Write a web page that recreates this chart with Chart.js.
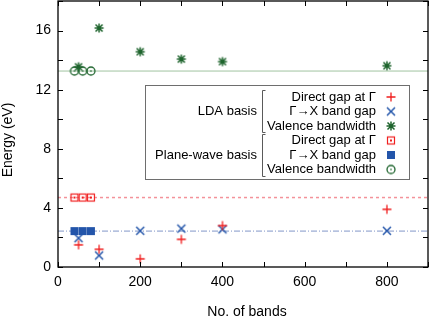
<!DOCTYPE html>
<html lang="en">
<head>
  <meta charset="UTF-8" />
  <title>Energy vs number of bands</title>
  <script src="https://cdn.jsdelivr.net/npm/chart.js"></script>
  <style>
    body {
      margin: 0;
      background: #fff;
    }
    #wrap {
      position: relative;
      width: 436px;
      height: 330px;
    }
  </style>
</head>
<body>
  <div id="wrap">
    <canvas id="bandsChart"></canvas>
  </div>

  <script>
    // data
    const ldaBands = [50, 100, 200, 300, 400, 800];
    const ldaDirectGap = [1.5, 1.2, 0.55, 1.87, 2.8, 3.9];
    const ldaGammaX = [1.95, 0.78, 2.45, 2.6, 2.55, 2.45];
    const ldaValence = [13.55, 16.17, 14.57, 14.07, 13.9, 13.62];

    const pwBands = [40, 60, 80];
    const pwDirectGap = [4.7, 4.7, 4.7];
    const pwGammaX = [2.43, 2.43, 2.43];
    const pwValence = [13.26, 13.26, 13.26];

    const xLimits = [0, 900];
    const yLimits = [0, 18];
    const xTitle = 'No. of bands';
    const yTitle = 'Energy (eV)';
    const legendLabels = ['Direct gap at Γ', 'Γ→X band gap', 'Valence bandwidth'];
    const groupLabels = ['LDA basis', 'Plane-wave basis'];

    const RED = 'rgb(240,30,30)';
    const BLUE = 'rgb(35,85,170)';
    const GREEN = 'rgb(30,100,45)';
    const FONT = "'Liberation Sans', Arial, sans-serif";

    Chart.defaults.font.family = FONT;
    Chart.defaults.font.size = 14;
    Chart.defaults.color = '#000';

    // little canvases used as point styles
    function marker(draw) {
      const c = document.createElement('canvas');
      c.width = 12; c.height = 12;
      const g = c.getContext('2d');
      g.translate(6, 6);
      draw(g);
      return c;
    }

    const plusMark = marker(g => {
      g.strokeStyle = RED; g.lineWidth = 1.3;
      g.beginPath();
      g.moveTo(-4.5, 0); g.lineTo(4.5, 0);
      g.moveTo(0, -4.5); g.lineTo(0, 4.5);
      g.stroke();
    });
    const crossMark = marker(g => {
      g.strokeStyle = BLUE; g.lineWidth = 1.5;
      g.beginPath();
      g.moveTo(-4, -4); g.lineTo(4, 4);
      g.moveTo(-4, 4); g.lineTo(4, -4);
      g.stroke();
    });
    const starMark = marker(g => {
      g.strokeStyle = GREEN; g.lineWidth = 1.5;
      g.beginPath();
      g.moveTo(-4.5, 0); g.lineTo(4.5, 0);
      g.moveTo(0, -4.5); g.lineTo(0, 4.5);
      g.moveTo(-3.5, -3.5); g.lineTo(3.5, 3.5);
      g.moveTo(-3.5, 3.5); g.lineTo(3.5, -3.5);
      g.stroke();
    });
    const openSquareMark = marker(g => {
      g.strokeStyle = RED; g.fillStyle = RED; g.lineWidth = 1.2;
      g.strokeRect(-3.5, -3.5, 7, 7);
      g.fillRect(-1, -1, 2, 2);
    });
    const filledSquareMark = marker(g => {
      g.fillStyle = BLUE;
      g.fillRect(-4, -4, 8, 8);
    });
    const circleMark = marker(g => {
      g.strokeStyle = GREEN; g.fillStyle = GREEN; g.lineWidth = 1.3;
      g.beginPath(); g.arc(0, 0, 4, 0, Math.PI * 2); g.stroke();
      g.fillRect(-0.7, -0.7, 1.4, 1.4);
    });

    const pts = (xs, ys) => xs.map((x, i) => ({ x: x, y: ys[i] }));
    const hline = y => [{ x: xLimits[0], y: y }, { x: xLimits[1], y: y }];

    function scatterSet(label, xs, ys, style) {
      return {
        type: 'scatter', label: label, data: pts(xs, ys),
        pointStyle: style, pointRadius: 5, order: 0
      };
    }
    function refLine(y, color, dash, width) {
      return {
        type: 'line', data: hline(y), borderColor: color, borderWidth: width || 1,
        borderDash: dash, pointRadius: 0, order: 10
      };
    }

    // frame, inward ticks, axis titles and the bracketed legend
    const framePlugin = {
      id: 'frame',
      afterDraw(chart) {
        const ctx = chart.ctx;
        const a = chart.chartArea;
        const xs = chart.scales.x, ys = chart.scales.y;
        ctx.save();
        ctx.strokeStyle = '#000';
        ctx.lineWidth = 1;
        ctx.beginPath();
        xs.ticks.forEach(t => {
          const px = Math.round(xs.getPixelForValue(t.value)) + 0.5;
          ctx.moveTo(px, a.bottom); ctx.lineTo(px, a.bottom - 5);
          ctx.moveTo(px, a.top); ctx.lineTo(px, a.top + 5);
        });
        ys.ticks.forEach(t => {
          const py = Math.round(ys.getPixelForValue(t.value)) + 0.5;
          ctx.moveTo(a.left, py); ctx.lineTo(a.left + 5, py);
          ctx.moveTo(a.right, py); ctx.lineTo(a.right - 5, py);
        });
        ctx.stroke();
        ctx.lineWidth = 1.3;
        ctx.strokeRect(a.left, a.top, a.right - a.left, a.bottom - a.top);

        // axis titles
        ctx.fillStyle = '#000';
        ctx.font = '14px ' + FONT;
        ctx.textAlign = 'center';
        ctx.textBaseline = 'middle';
        ctx.fillText(xTitle, 247, 312);
        ctx.save();
        ctx.translate(8, 140);
        ctx.rotate(-Math.PI / 2);
        ctx.fillText(yTitle, 0, 0);
        ctx.restore();

        // legend box
        const bx = 145.5, by = 85.5, bw = 264, bh = 94;
        ctx.fillStyle = '#fff';
        ctx.fillRect(bx, by, bw, bh);
        ctx.strokeStyle = 'rgb(110,110,110)';
        ctx.lineWidth = 1;
        ctx.strokeRect(bx, by, bw, bh);

        const marks = [plusMark, crossMark, starMark, openSquareMark, filledSquareMark, circleMark];
        const rowY = [97, 111.5, 126, 140.5, 155, 169.5];
        ctx.fillStyle = '#000';
        ctx.font = '13px ' + FONT;
        ctx.textAlign = 'right';
        rowY.forEach((y, i) => {
          ctx.fillText(legendLabels[i % 3], 376, y);
          ctx.drawImage(marks[i], 391 - 6, y - 6);
        });
        ctx.fillText(groupLabels[0], 257, rowY[1]);
        ctx.fillText(groupLabels[1], 257, rowY[4]);

        // brackets
        ctx.strokeStyle = 'rgb(90,90,90)';
        ctx.beginPath();
        [[90.5, 132.5], [134.5, 176.5]].forEach(([t, b]) => {
          ctx.moveTo(265.5, t); ctx.lineTo(262.5, t); ctx.lineTo(262.5, b); ctx.lineTo(265.5, b);
        });
        ctx.stroke();
        ctx.restore();
      }
    };

    new Chart(document.getElementById('bandsChart'), {
      data: {
        datasets: [
          scatterSet('LDA direct gap', ldaBands, ldaDirectGap, plusMark),
          scatterSet('LDA gamma-X gap', ldaBands, ldaGammaX, crossMark),
          scatterSet('LDA valence bandwidth', ldaBands, ldaValence, starMark),
          scatterSet('PW direct gap', pwBands, pwDirectGap, openSquareMark),
          scatterSet('PW gamma-X gap', pwBands, pwGammaX, filledSquareMark),
          scatterSet('PW valence bandwidth', pwBands, pwValence, circleMark),
          refLine(pwValence[0], 'rgb(160,195,160)', []),
          refLine(pwDirectGap[0], 'rgba(240,110,120,0.75)', [3, 3], 1.5),
          refLine(pwGammaX[0], 'rgb(130,150,200)', [6, 2, 1, 2])
        ]
      },
      options: {
        responsive: true,
        maintainAspectRatio: false,
        animation: false,
        layout: { autoPadding: false, padding: { left: 0, top: 1, right: 8, bottom: 0 } },
        plugins: {
          legend: { display: false },
          tooltip: { enabled: false }
        },
        scales: {
          x: {
            type: 'linear',
            min: xLimits[0], max: xLimits[1],
            grid: { display: false, drawTicks: false },
            border: { display: false },
            ticks: {
              stepSize: 100,
              padding: 7,
              maxRotation: 0,
              callback: v => (v % 200 === 0 && v < 900 ? v : '')
            },
            afterFit: s => {
              s.height = 63;
              s.paddingLeft = 0; s.paddingRight = 0;
            }
          },
          y: {
            type: 'linear',
            min: yLimits[0], max: yLimits[1],
            grid: { display: false, drawTicks: false },
            border: { display: false },
            ticks: {
              stepSize: 2,
              padding: 7,
              callback: v => (v % 4 === 0 ? v : '')
            },
            afterFit: s => {
              s.width = 58;
              s.paddingTop = 0; s.paddingBottom = 0;
            }
          }
        }
      },
      plugins: [framePlugin]
    });
  </script>
</body>
</html>
